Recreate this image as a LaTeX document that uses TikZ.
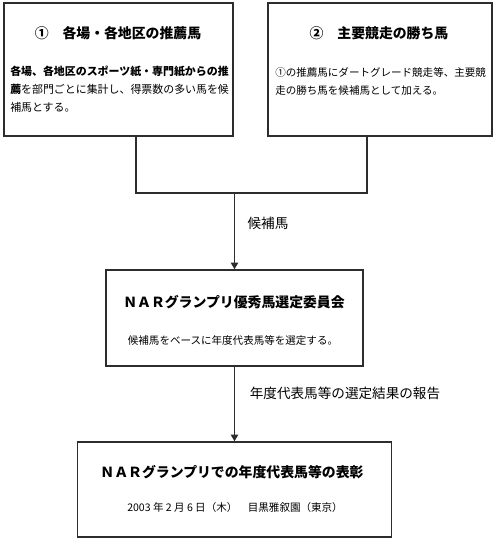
\documentclass[tikz,border=0pt]{standalone}
\usepackage{fontspec}
\setmainfont{Noto Sans CJK JP}
\usetikzlibrary{arrows.meta}
\definecolor{frame}{RGB}{45,45,45}
\tikzset{
  panel/.style={draw=frame, line width=1.1pt, inner sep=0pt, fill=white},
  link/.style={draw=frame, line width=1.1pt},
  body/.style={inner sep=0pt, anchor=west, align=left, font=\fontsize{7.9}{13.5}\selectfont},
  head/.style={inner sep=0pt, font=\fontsize{10.4}{12}\selectfont\bfseries},
  note/.style={inner sep=0pt, font=\fontsize{10.2}{12}\selectfont}
}

\begin{document}
\begin{tikzpicture}[x=0.75pt,y=0.75pt,yscale=-1,xscale=1]
\useasboundingbox (0,0) rectangle (496,540);

%Shape: Rectangle [candidates]
\node [panel, minimum width=171.75pt, minimum height=99.75pt] (cand) at (118.5,69.5) {};
%Shape: Rectangle [winners]
\node [panel, minimum width=168pt, minimum height=99.75pt] (win) at (380,69.5) {};
%Shape: Rectangle [committee]
\node [panel, minimum width=192.75pt, minimum height=72pt] (comm) at (234.5,318) {};
%Shape: Rectangle [award]
\node [panel, minimum width=235.5pt, minimum height=71.25pt] (award) at (234.5,489.5) {};

%Joints
\coordinate (jl) at (136,193);
\coordinate (jr) at (367,193);
\coordinate (jm) at (234.5,193);

%Straight Lines
\draw [link] (jl |- cand.south) -- (jl) -- (jr) -- (jr |- win.south);
\draw [link, -{Triangle[length=5pt,width=5.5pt]}] (jm) -- (comm.north);
\draw [link, -{Triangle[length=5pt,width=5.5pt]}] (comm.south) -- (award.north);

% Text Node
\node [head] (candhead) at (118,33) {①　各場・各地区の推薦馬};
% Text Node
\node [body, font=\fontsize{8.2}{13.5}\selectfont] (candtext) at (10,89) {\textbf{各場、各地区のスポーツ紙・専門紙からの推}\\\textbf{薦}を部門ごとに集計し、得票数の多い馬を候\\補馬とする。};
% Text Node
\node [head] (winhead) at (379,33) {②　主要競走の勝ち馬};
% Text Node
\node [body] (wintext) at (275,81.5) {①の推薦馬にダートグレード競走等、主要競\\走の勝ち馬を候補馬として加える。};
% Text Node
\node [head] (commhead) at (234,302) {ＮＡＲグランプリ優秀馬選定委員会};
% Text Node
\node [body, anchor=center] (commtext) at (233,340) {候補馬をベースに年度代表馬等を選定する。};
% Text Node
\node [head] (awardhead) at (232,472) {ＮＡＲグランプリでの年度代表馬等の表彰};
% Text Node
\node [body, anchor=center] (awardtext) at (235,507) {2003 年 2 月 6 日（木）　目黒雅叙園（東京）};
% Text Node
\node [note] (candlabel) at (268,223) {候補馬};
% Text Node
\node [note] (reportlabel) at (345,393) {年度代表馬等の選定結果の報告};

\end{tikzpicture}
\end{document}
